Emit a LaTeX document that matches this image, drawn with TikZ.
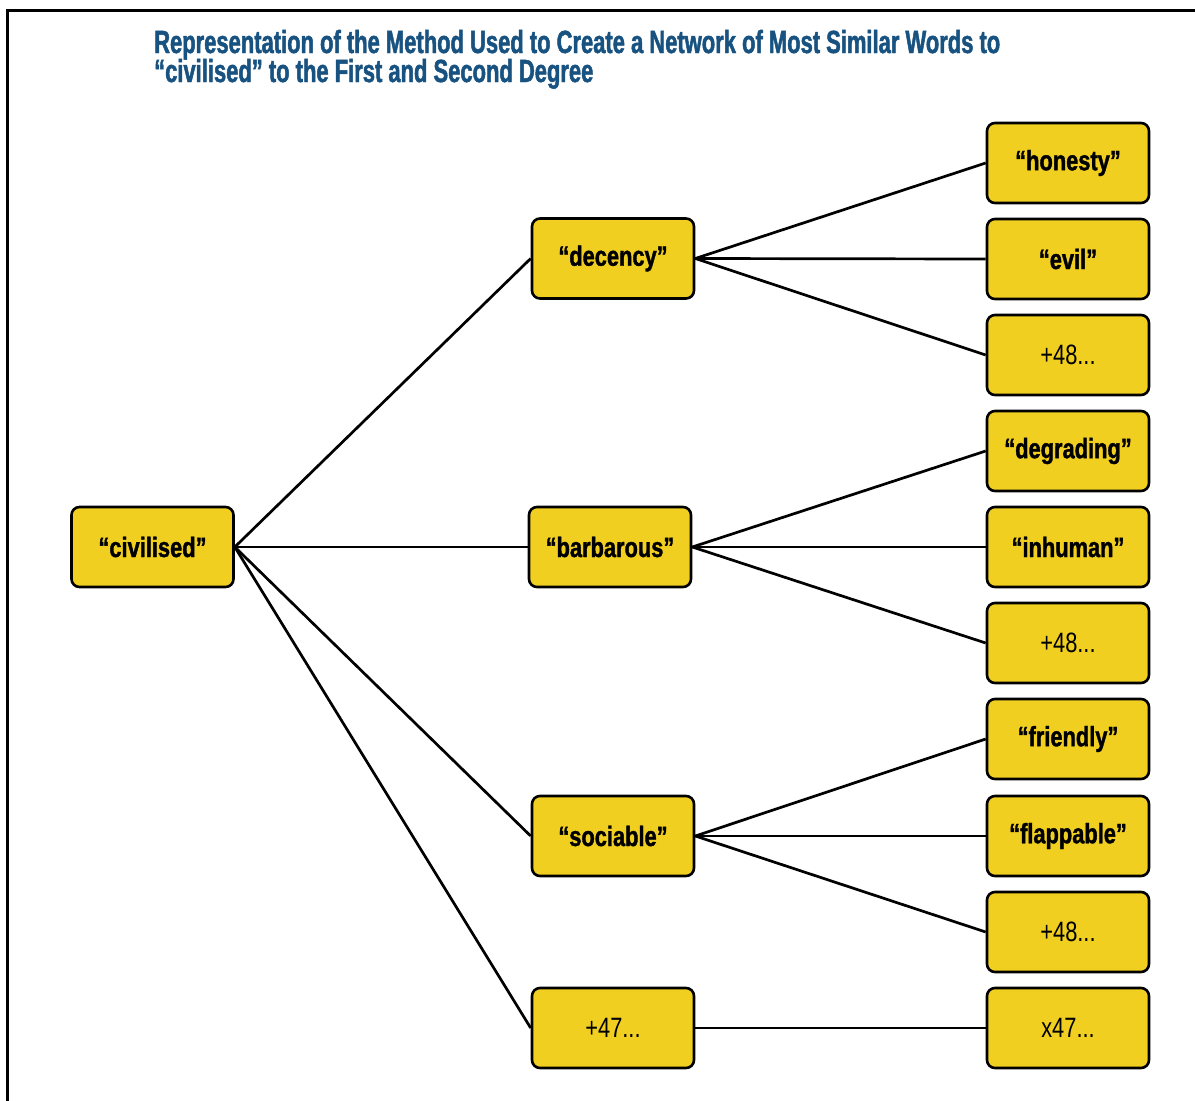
\documentclass[tikz,border=0pt]{standalone}
\usepackage{fontspec}
\setmainfont{Liberation Sans}
\newfontfamily\titlefont[FakeStretch=0.686, BoldFeatures={FakeBold=1.5}]{Liberation Sans}
\newfontfamily\boxfont[FakeStretch=0.78, BoldFeatures={FakeBold=1.3}]{Liberation Sans}
\definecolor{boxyellow}{RGB}{240,207,32}
\definecolor{titleblue}{RGB}{24,82,128}
\tikzset{
  wbox/.style={draw=black, line width=2.6pt, fill=boxyellow, rounded corners=8pt,
    minimum width=162pt, minimum height=80pt, inner sep=0pt, font=\boxfont\fontsize{28}{32}\selectfont},
  conn/.style={line width=2.7pt, draw=black},
  ttl/.style={anchor=base west, inner sep=0pt, text=titleblue, font=\titlefont\bfseries\fontsize{32}{34}\selectfont}
}
\begin{document}
\begin{tikzpicture}[x=1pt,y=-1pt]
\useasboundingbox (0,0) rectangle (1195,1101);
\fill[white] (0,0) rectangle (1195,1101);
\draw[line width=2.8pt] (7.5,1101) -- (7.5,10.5) -- (1195,10.5);
\node[ttl] (title1) at (154,53) {Representation of the Method Used to Create a Network of Most Similar Words to};
\node[ttl] (title2) at (154,82) {“civilised” to the First and Second Degree};

\node[wbox] (civ) at (152.5,547) {\bfseries “civilised”};
\node[wbox] (dec) at (613,258.5) {\bfseries “decency”};
\node[wbox] (bar) at (610,547) {\bfseries “barbarous”};
\node[wbox] (soc) at (613,836) {\bfseries “sociable”};
\node[wbox] (p47) at (613,1028) {+47...};

\node[wbox] (hon) at (1068,163) {\bfseries “honesty”};
\node[wbox] (evi) at (1068,259) {\bfseries “evil”};
\node[wbox] (pa) at (1068,355) {+48...};
\node[wbox] (deg) at (1068,451) {\bfseries “degrading”};
\node[wbox] (inh) at (1068,547) {\bfseries “inhuman”};
\node[wbox] (pb) at (1068,643) {+48...};
\node[wbox] (fri) at (1068,739) {\bfseries “friendly”};
\node[wbox] (fla) at (1068,836) {\bfseries “flappable”};
\node[wbox] (pc) at (1068,932) {+48...};
\node[wbox] (x47) at (1068,1028) {x47...};

\draw[conn] (civ.east) -- (dec.west);
\draw[conn] (civ.east) -- (bar.west);
\draw[conn] (civ.east) -- (soc.west);
\draw[conn] (civ.east) -- (p47.west);

\draw[conn] (dec.east) -- (hon.west);
\draw[conn] (dec.east) -- (evi.west);
\draw[conn] (dec.east) -- (pa.west);
\draw[conn] (bar.east) -- (deg.west);
\draw[conn] (bar.east) -- (inh.west);
\draw[conn] (bar.east) -- (pb.west);
\draw[conn] (soc.east) -- (fri.west);
\draw[conn] (soc.east) -- (fla.west);
\draw[conn] (soc.east) -- (pc.west);
\draw[conn] (p47.east) -- (x47.west);
\end{tikzpicture}
\end{document}
